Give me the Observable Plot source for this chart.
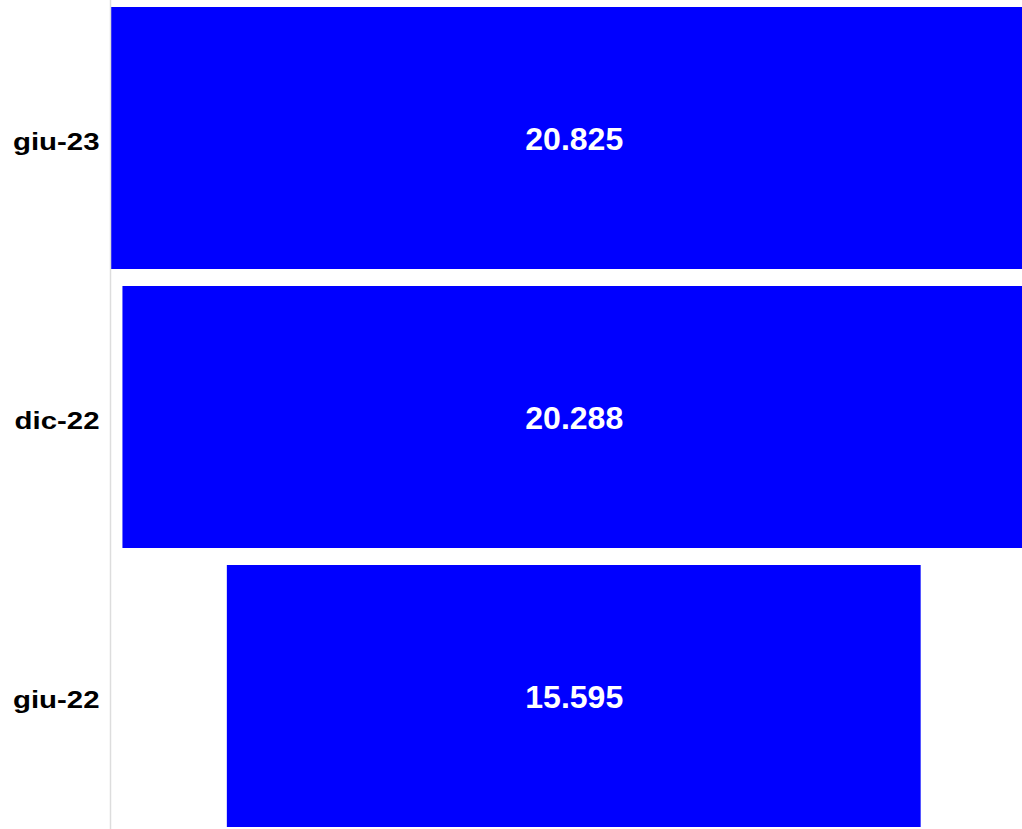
<!DOCTYPE html>
<html>
<head>
<meta charset="utf-8">
<script src="https://cdn.jsdelivr.net/npm/d3@7"></script>
<script src="https://cdn.jsdelivr.net/npm/@observablehq/plot@0.6"></script>
<style>
  html, body { margin: 0; padding: 0; background: #fff; overflow: hidden; }
  #chart svg { display: block; }
</style>
</head>
<body>
<div id="chart"></div>
<script>
const periods = ["giu-23", "dic-22", "giu-22"];
const values = [20825, 20288, 15595];

const fmt = d3.formatLocale({decimal: ",", thousands: ".", grouping: [3], currency: ["", "€"]}).format(",d");
const data = periods.map((p, i) => ({period: p, value: values[i], label: fmt(values[i])}));
const valueLabels = data.map(d => d.label);
const maxV = d3.max(values);

const chart = Plot.plot({
  width: 1022,
  height: 829,
  marginLeft: 110,
  marginRight: 0,
  marginTop: 0,
  marginBottom: 0,
  style: {fontFamily: "'Liberation Sans', Arial, sans-serif", background: "#fff"},
  x: {domain: [-maxV / 2, maxV / 2], range: [110.5, 1037], axis: null},
  y: {domain: periods, range: [7, 827], paddingInner: 0.061, paddingOuter: 0, label: null},
  marks: [
    Plot.barX(data, {x1: d => -d.value / 2, x2: d => d.value / 2, y: "period", fill: "#0000ff", clip: true}),
    Plot.text(data, {x: 0, y: "period", text: "label", fill: "#fff", fontSize: 30.5, fontWeight: "bold", dy: 2}),
    Plot.axisY({tickSize: 0, tickPadding: 11, fontSize: 24.5, fontWeight: "bold", color: "#000", dy: 3.5}),
    Plot.frame({anchor: "left", stroke: "#dddddd", strokeWidth: 1.5})
  ]
});
document.getElementById("chart").appendChild(chart);

// widen texts horizontally to match the reference's lettering
chart.querySelectorAll("text").forEach(t => {
  const s = t.textContent.trim();
  const b = t.getBBox();
  let anchor, k;
  if (periods.includes(s)) { anchor = b.x + b.width; k = 1.2; }
  else if (valueLabels.includes(s)) { anchor = b.x + b.width / 2; k = 1.05; }
  else return;
  const prev = t.getAttribute("transform") || "";
  t.setAttribute("transform", `${prev} translate(${anchor},0) scale(${k},1) translate(${-anchor},0)`);
});
</script>
</body>
</html>
